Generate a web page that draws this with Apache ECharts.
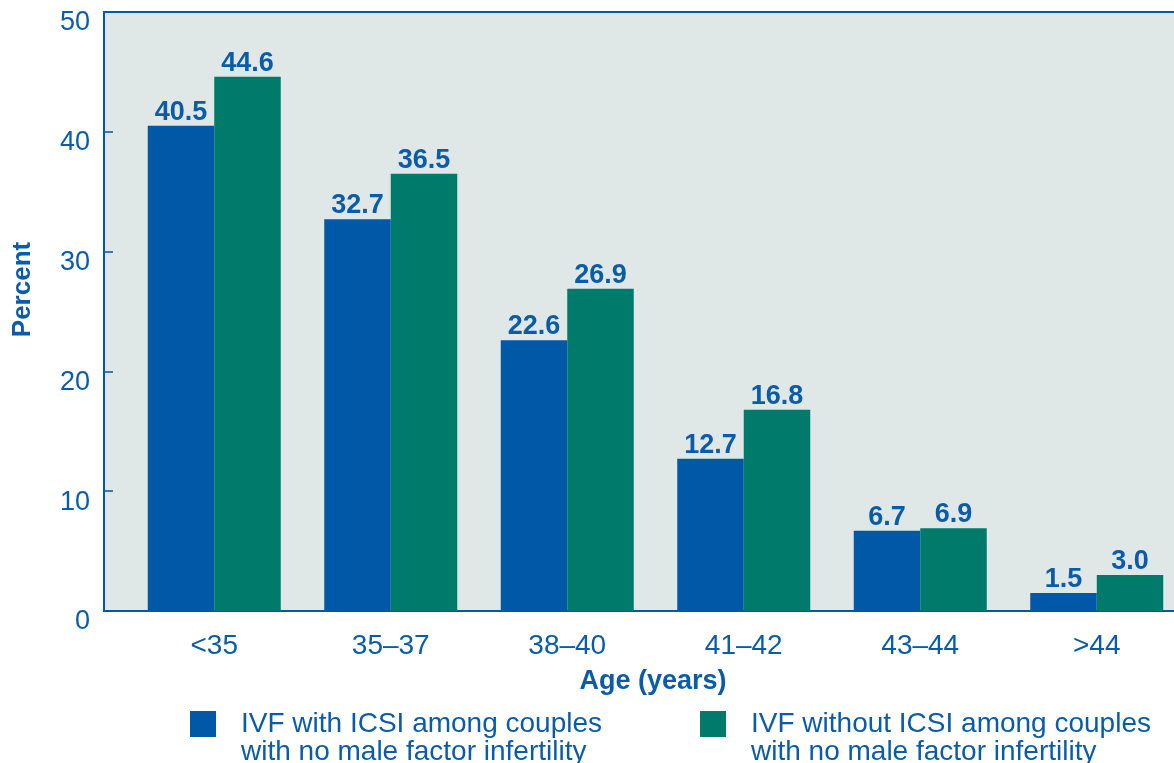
<!DOCTYPE html>
<html>
<head>
<meta charset="utf-8">
<script src="https://cdn.jsdelivr.net/npm/echarts@6/dist/echarts.min.js"></script>
<style>
  html, body { margin: 0; padding: 0; background: #fff; }
  #chart { width: 1174px; height: 763px; }
</style>
</head>
<body>
<div id="chart"></div>
<script>
// age groups and percentages
const ageGroups = ["<35", "35–37", "38–40", "41–42", "43–44", ">44"];
const withIcsi = [40.5, 32.7, 22.6, 12.7, 6.7, 1.5];
const withoutIcsi = [44.6, 36.5, 26.9, 16.8, 6.9, 3.0];
const yTicks = { min: 0, max: 50, interval: 10 };

const nameWith = "IVF with ICSI among couples with no male factor infertility";
const nameWithout = "IVF without ICSI among couples with no male factor infertility";
// leading blank line keeps the first text line level with the square
const legendLines = {};
legendLines[nameWith] = " \nIVF with ICSI among couples\nwith no male factor infertility";
legendLines[nameWithout] = " \nIVF without ICSI among couples\nwith no male factor infertility";

const BLUE = "#0058a6";
const GREEN = "#007b6b";
const TEXT = "#0b5ca8";
const FONT = "Liberation Sans, Arial, sans-serif";

const chart = echarts.init(document.getElementById("chart"));

function legendFor(name, left) {
    return {
        left: left,
        top: 682,
        padding: 0,
        orient: "horizontal",
        icon: "rect",
        itemWidth: 26,
        itemHeight: 26,
        selectedMode: false,
        data: [name],
        formatter: (n) => legendLines[n],
        textStyle: {
            color: TEXT,
            fontFamily: FONT,
            fontSize: 28,
            lineHeight: 28,
            padding: [0, 0, 0, 20],
        },
    };
}

const barLabel = {
    show: true,
    position: "top",
    distance: 0,
    color: TEXT,
    fontFamily: FONT,
    fontSize: 27,
    fontWeight: "bold",
    formatter: (p) => p.value.toFixed(1),
};

chart.setOption({
    animation: false,
    textStyle: { fontFamily: FONT },
    grid: [
        {
            // background frame, runs past the right edge
            left: 104,
            top: 12,
            width: 1090,
            bottom: 152,
            outerBoundsMode: "none",
            show: true,
            backgroundColor: "#dfe8e6",
            borderColor: BLUE,
            borderWidth: 2,
        },
        {
            // bars
            left: 126,
            top: 12,
            width: 1059,
            bottom: 152,
            outerBoundsMode: "none",
        },
    ],
    legend: [legendFor(nameWith, 190), legendFor(nameWithout, 700)],
    xAxis: [
        {
            type: "category",
            gridIndex: 0,
            data: ageGroups,
            show: false,
        },
        {
            type: "category",
            gridIndex: 1,
            data: ageGroups,
            axisLine: { show: false },
            axisTick: { show: false },
            axisLabel: {
                color: TEXT,
                fontSize: 28,
                margin: 21,
            },
        },
        {
            // axis title
            type: "category",
            gridIndex: 1,
            data: ageGroups,
            position: "bottom",
            axisLine: { show: false },
            axisTick: { show: false },
            axisLabel: { show: false },
            name: "Age (years)",
            nameLocation: "middle",
            nameGap: 57,
            nameTextStyle: {
                color: TEXT,
                fontSize: 27,
                fontWeight: "bold",
                padding: [0, 5, 0, 0],
            },
        },
    ],
    yAxis: [
        {
            type: "value",
            gridIndex: 0,
            min: yTicks.min,
            max: yTicks.max,
            interval: yTicks.interval,
            axisLine: { show: false },
            splitLine: { show: false },
            axisTick: {
                show: true,
                inside: true,
                length: 9,
                lineStyle: { color: BLUE, width: 1.5 },
            },
            axisLabel: {
                color: TEXT,
                fontSize: 27,
                margin: 14,
                verticalAlign: "top",
                lineHeight: 22,
            },
            name: "Percent",
            nameLocation: "middle",
            nameGap: 68,
            nameTextStyle: {
                color: TEXT,
                fontSize: 26,
                fontWeight: "bold",
                padding: [0, 0, 0, 44],
            },
        },
        {
            type: "value",
            gridIndex: 1,
            min: yTicks.min,
            max: yTicks.max,
            interval: yTicks.interval,
            show: false,
            splitLine: { show: false },
        },
    ],
    series: [
        {
            name: nameWith,
            type: "bar",
            xAxisIndex: 1,
            yAxisIndex: 1,
            barWidth: 66.5,
            barGap: "0%",
            itemStyle: { color: BLUE },
            label: barLabel,
            data: withIcsi,
        },
        {
            name: nameWithout,
            type: "bar",
            xAxisIndex: 1,
            yAxisIndex: 1,
            barWidth: 66.5,
            barGap: "0%",
            itemStyle: { color: GREEN },
            label: barLabel,
            data: withoutIcsi,
        },
    ],
});
</script>
</body>
</html>
